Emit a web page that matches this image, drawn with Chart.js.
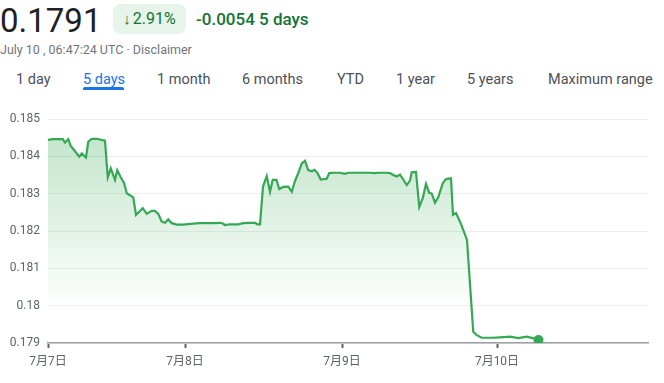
<!DOCTYPE html>
<html>
<head>
<meta charset="utf-8">
<script src="https://cdn.jsdelivr.net/npm/chart.js@4/dist/chart.umd.min.js"></script>
<style>
  html, body { margin: 0; padding: 0; background: #fff; }
  body { width: 664px; height: 383px; position: relative; overflow: hidden; font-family: Roboto, "Noto Sans", Arial, sans-serif; }
  .abs { position: absolute; white-space: nowrap; }
  #price { left: 0; top: 1px; font-size: 33px; color: #202124; line-height: normal; }
  #badge { left: 113px; top: 4px; width: 73px; height: 30px; border-radius: 8px; background: #e6f4ea; color: #137333; font-size: 16px; line-height: 30px; text-align: center; }
  #badge .ar { font-size: 15px; margin-right: 2px; }
  #chg { left: 196px; top: 6px; font-size: 17px; line-height: 26px; color: #137333; font-weight: 500; }
  #sub { left: 0; top: 42px; font-size: 12.5px; color: #70757a; line-height: 16px; }
  .tab { top: 71px; font-size: 14.5px; color: #4d5156; line-height: 18px; }
  .tab.on { color: #1a73e8; }
  #uline { left: 83px; top: 87px; width: 41px; height: 3px; background: #1a73e8; border-radius: 2px 2px 0 0; }
  #wrap { position: absolute; left: 0; top: 100px; width: 664px; height: 283px; }
</style>
</head>
<body>
<div id="price" class="abs">0.1791</div>
<div id="badge" class="abs"><span class="ar">↓</span>2.91%</div>
<div id="chg" class="abs">-0.0054 5 days</div>
<div id="sub" class="abs">July 10 , 06:47:24 UTC · Disclaimer</div>
<div class="abs tab" style="left:16px">1 day</div>
<div class="abs tab on" style="left:83px">5 days</div>
<div class="abs tab" style="left:157px">1 month</div>
<div class="abs tab" style="left:242px">6 months</div>
<div class="abs tab" style="left:337px">YTD</div>
<div class="abs tab" style="left:396px">1 year</div>
<div class="abs tab" style="left:467px">5 years</div>
<div class="abs tab" style="left:548px">Maximum range</div>
<div id="uline" class="abs"></div>
<div id="wrap"><canvas id="c" width="664" height="283"></canvas></div>
<script>
// time position of each sample (trading-time units along the axis)
const times = [0,1.9,3.7,5.9,6.8,8.1,9.1,10.4,12.5,13.5,15.2,16.1,17.5,19.5,22.8,23.9,25.1,26.8,27.7,29.1,
  30.4,31.5,34.1,35.2,37.9,39.5,41.5,42.8,44.1,45.5,46.8,48.1,49.5,51.5,54.1,58.1,60.8,63.5,66.1,68.8,
  69.9,70.8,72.8,76.1,78.1,80.8,82.8,83.7,84.8,86,87.5,88.8,89.9,91.4,92.5,94,96.1,97.5,98.8,100.1,
  101.5,102.8,104.1,105.5,106.6,107.8,109.1,111.5,112.5,114.1,116.8,118.8,120.1,123.5,128.8,130.8,132.1,135.5,136.8,138.1,
  139.5,140.8,142.1,143.5,144.8,145.5,147.2,148.5,149.9,151.2,152.5,153.5,154.8,156.1,157.9,159.2,161.2,162,163.2,164.8,
  166.1,167.6,170.1,171.5,173.5,178.1,180.8,184.8,188.1,191.5,193.9,196.2];
const prices = [0.18444,0.18446,0.18446,0.18446,0.18437,0.18446,0.18428,0.18417,0.18399,0.18408,0.18397,0.18439,0.18447,0.18447,0.18442,0.18344,0.18368,0.18337,0.18363,0.18344,
  0.18329,0.18301,0.18290,0.18243,0.18261,0.18246,0.18254,0.18254,0.18246,0.18225,0.18222,0.18231,0.18221,0.18217,0.18217,0.18220,0.18221,0.18221,0.18221,0.18222,
  0.18220,0.18216,0.18218,0.18218,0.18221,0.18222,0.18222,0.18218,0.18218,0.18319,0.18347,0.18305,0.18337,0.18337,0.18312,0.18318,0.18319,0.18305,0.18334,0.18355,
  0.18381,0.18388,0.18363,0.18360,0.18364,0.18355,0.18338,0.18340,0.18355,0.18356,0.18356,0.18353,0.18356,0.18356,0.18356,0.18355,0.18356,0.18356,0.18355,0.18350,
  0.18346,0.18351,0.18338,0.18323,0.18335,0.18357,0.18358,0.18264,0.18288,0.18326,0.18302,0.18300,0.18276,0.18290,0.18328,0.18339,0.18341,0.18243,0.18248,0.18225,
  0.18203,0.18176,0.17930,0.17921,0.17914,0.17914,0.17915,0.17917,0.17913,0.17917,0.17913,0.17908];
const xTickPos = [0, 54.8, 117.6, 179.6];
const xTickLabels = ['7月7日', '7月8日', '7月9日', '7月10日'];
const yMin = 0.179, yMax = 0.185, yStep = 0.001;
const xMax = 240;

const points = times.map((t, i) => ({ x: t, y: prices[i] }));
const GREEN = '#34a853';
const lastIdx = points.length - 1;

new Chart(document.getElementById('c'), {
  type: 'line',
  data: {
    datasets: [{
      data: points,
      borderColor: GREEN,
      borderWidth: 2.2,
      tension: 0,
      fill: 'start',
      backgroundColor: (ctx) => {
        const ca = ctx.chart.chartArea;
        if (!ca) return 'rgba(52,168,83,0.15)';
        const g = ctx.chart.ctx.createLinearGradient(0, ca.top, 0, ca.bottom);
        g.addColorStop(0, 'rgba(52,168,83,0.32)');
        g.addColorStop(0.85, 'rgba(52,168,83,0.0)');
        g.addColorStop(1, 'rgba(52,168,83,0.0)');
        return g;
      },
      pointRadius: (ctx) => ctx.dataIndex === lastIdx ? 5 : 0,
      pointHoverRadius: 0,
      pointBackgroundColor: GREEN,
      pointBorderWidth: 0
    }]
  },
  options: {
    responsive: false,
    devicePixelRatio: 1,
    animation: false,
    layout: { padding: { top: 19, right: 16, left: 0, bottom: 0 } },
    plugins: { legend: { display: false }, tooltip: { enabled: false } },
    scales: {
      x: {
        type: 'linear',
        min: 0, max: xMax,
        afterBuildTicks: (s) => { s.ticks = xTickPos.map(v => ({ value: v })); },
        afterFit: (s) => { s.height = 40; },
        ticks: {
          autoSkip: false, maxRotation: 0, padding: 7,
          color: '#5f6368',
          font: { size: 12, family: 'Roboto, "Noto Sans CJK SC", sans-serif' },
          callback: (v, i) => xTickLabels[i]
        },
        grid: { drawOnChartArea: false, drawTicks: true, tickLength: 5, tickWidth: 2, tickColor: '#5f6368' },
        border: { display: true, color: '#9aa0a6', width: 1.5 }
      },
      y: {
        min: yMin, max: yMax,
        afterFit: (s) => { s.width = 48; },
        ticks: {
          stepSize: yStep, padding: 8, color: '#5f6368',
          font: { size: 12, family: 'Roboto, sans-serif' },
          callback: (v) => String(+v.toFixed(3))
        },
        grid: { color: '#eeeeee', drawTicks: false },
        border: { display: false }
      }
    }
  }
});
</script>
</body>
</html>
